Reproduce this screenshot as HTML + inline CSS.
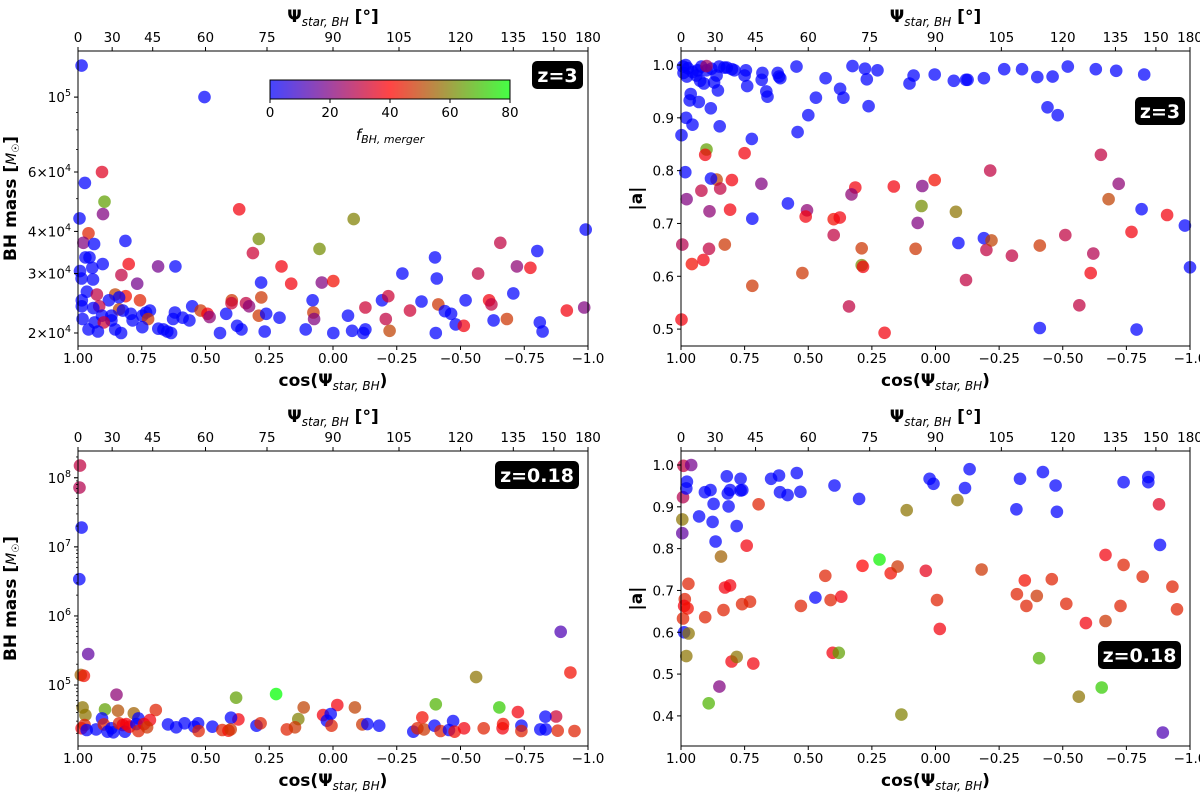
<!DOCTYPE html>
<html><head><meta charset="utf-8"><style>
html,body{margin:0;padding:0;background:#fff;width:1200px;height:798px;overflow:hidden}
svg{font-family:"DejaVu Sans","Liberation Sans",sans-serif}
</style></head><body>
<svg id="fig" width="1200" height="798" viewBox="0 0 1200 798" xmlns="http://www.w3.org/2000/svg">
<defs>
<linearGradient id="cmap" x1="0" x2="1" y1="0" y2="0">
<stop offset="0" stop-color="#4545ff"/><stop offset="0.5" stop-color="#ff4545"/><stop offset="1" stop-color="#45ff45"/>
</linearGradient>
</defs>
</svg>
<script>
// ---------- DATA ----------
// top-left: z=3 BH mass
const tlCos=[.986,.504,.906,.973,.896,.902,.994,.959,.368,-.081,.291,.053,-.991,.979,.814,.937,.971,.955,.903,.944,.992,.801,.83,.686,.618,.314,.202,.164,.044,-.001,.282,-.272,-.4,-.407,-.656,-.801,-.721,-.774,-.569,-.707,.941,.986,.965,.926,.854,.813,.768,.879,.757,.839,.985,.985,.917,.94,.839,.824,.793,.733,.718,.748,.725,.786,.869,.869,.906,.935,.899,.982,.959,.922,.854,.831,.748,.685,.665,.65,.635,.62,.627,.59,.563,.552,.519,.492,.484,.443,.419,.397,.398,.376,.359,.341,.329,.291,.262,.281,.268,.21,.107,.08,.077,.074,-.001,-.059,-.075,-.119,-.127,-.127,-.192,-.217,-.207,-.222,-.302,-.347,-.413,-.439,-.463,-.481,-.513,-.52,-.403,-.612,-.621,-.63,-.682,-.811,-.822,-.917,-.985];
const tlMass=[124000,100000,60000,55700,49000,45000,43700,39500,46500,43500,38000,35500,40500,37000,37500,36700,33500,33500,32000,31200,30500,32000,29700,31500,31500,34500,31500,28000,28200,28500,28200,30000,33500,29000,37000,35000,31500,31200,30000,26200,28800,29000,26500,26000,26000,25700,28000,25000,25000,25500,25000,24000,24000,23700,23500,23300,22800,23000,23300,22500,22000,21800,22500,21800,22500,21500,21500,22000,20500,20200,20500,20000,20800,20600,20500,20200,20000,23000,22000,22200,21800,24000,23300,22800,22300,20000,22800,25000,24500,21000,20500,24500,24000,22500,22800,25500,20200,22200,20500,25000,23000,22000,20000,22500,20300,20000,20500,23800,25000,25700,22000,20300,23300,24800,24300,23200,22800,21200,21000,25000,20000,25000,24300,21800,22000,21500,20200,23300,23800];
const tlF=[0,0,35,0,65,20,0,45,38,60,62,62,0,20,0,0,0,0,0,0,0,38,30,18,0,32,38,38,20,42,0,0,0,0,30,0,22,38,30,0,0,0,0,30,50,42,18,0,45,0,0,0,30,0,50,0,0,0,0,0,48,0,0,0,0,0,32,0,0,0,0,0,0,0,0,0,0,0,0,0,0,0,48,38,22,0,0,48,32,0,0,30,22,48,0,48,0,0,0,0,48,20,0,0,0,0,0,32,0,32,30,50,32,0,48,0,0,0,38,0,0,38,30,0,48,0,0,38,20];
// top-right: z=3 spin
const trCos=[.992,.982,.973,.99,.977,.955,.94,.925,.91,.935,.92,.9,.88,.86,.85,.83,.82,.8,.79,.745,.75,.74,.683,.68,.665,.66,.62,.615,.61,.87,.855,.962,.966,.93,.883,.98,.955,.848,.998,.722,.546,.5,.542,.432,.47,.375,.362,.326,.277,.27,.263,.228,.102,.086,.003,-.072,-.12,-.126,-.19,-.27,-.34,-.4,-.46,-.44,-.48,-.52,-.63,-.71,-.82,.983,.58,.72,-.09,-.19,-.41,-.81,-.79,-.98,-1.0,
.9,.9,.905,.75,.86,.882,.846,.8,.92,.684,.978,.888,.807,.89,.828,.995,.957,.912,.72,.523,.505,.51,.4,.376,.4,.315,.33,.34,.29,.29,.285,.2,.164,.078,.07,.052,.055,.003,-.08,-.12,-.215,-.2,-.22,-.3,-.41,-.51,-.565,-.61,-.62,-.65,-.68,-.72,-.77,-.91,.998];
const trSpin=[.997,1.0,.994,.985,.978,.987,.98,.97,.965,.99,.997,.99,.993,.98,.997,.995,.995,.992,.99,.99,.98,.96,.972,.985,.95,.94,.985,.978,.975,.967,.952,.945,.933,.93,.918,.9,.887,.884,.867,.86,.997,.905,.873,.975,.938,.955,.938,.998,.993,.973,.922,.99,.965,.98,.982,.97,.972,.972,.975,.992,.992,.977,.978,.92,.905,.997,.992,.989,.982,.797,.738,.709,.663,.672,.502,.727,.499,.696,.617,
.998,.84,.83,.833,.783,.785,.766,.782,.762,.775,.746,.723,.726,.652,.66,.66,.623,.631,.582,.606,.725,.713,.708,.711,.678,.768,.755,.543,.653,.621,.618,.493,.77,.652,.701,.771,.733,.782,.722,.593,.8,.65,.668,.639,.658,.678,.545,.606,.643,.83,.746,.775,.684,.716,.518];
const trF=[0,0,0,0,0,0,0,0,0,0,0,0,0,0,0,0,0,0,0,0,0,0,0,0,0,0,0,0,0,0,0,0,0,0,0,0,0,0,0,0,0,0,0,0,0,0,0,0,0,0,0,0,0,0,0,0,0,0,0,0,0,0,0,0,0,0,0,0,0,0,0,0,0,0,0,0,0,0,0,
25,65,38,38,50,0,30,38,30,20,20,22,38,30,48,28,42,38,48,48,22,38,42,38,30,38,22,30,48,62,38,38,38,48,20,20,62,42,58,30,30,30,50,30,48,30,30,38,28,30,50,22,38,38,38];
// bottom-left: z=0.18 BH mass
const blCos=[.992,.994,.986,.995,.96,.989,.977,-.893,-.931,-.561,.849,.38,.223,-.403,-.652,.982,.971,.894,.843,.781,.695,.115,-.017,-.086,-.725,-.875,.039,.009,.024,.136,.906,.763,.718,.371,.4,-.35,-.471,-.833,
.986,.974,.966,.929,.899,.884,.869,.861,.839,.824,.816,.81,.798,.771,.763,.741,.729,.647,.615,.582,.544,.529,.527,.473,.434,.41,.401,.3,.284,.181,.149,.006,-.115,-.135,-.181,-.315,-.331,-.357,-.398,-.422,-.455,-.477,-.514,-.591,-.665,-.667,-.739,-.739,-.813,-.834,-.881,-.947];
const blMass=[150000000,72000000,19000000,3400000,280000,140000,136000,590000,152000,130000,72400,65500,74000,52500,47400,47400,36700,44400,42500,38900,43500,47400,51300,47400,40600,35000,36700,38000,30400,32100,32900,32900,31100,31800,33700,34000,30000,34800,
23600,26400,22300,22800,26900,21100,23600,20700,27900,26400,21100,27200,24900,27200,21600,27200,24400,26900,24400,27900,24900,27900,21600,24900,22300,21800,22800,25800,27900,22800,24400,25800,26900,27200,25800,21100,23600,22800,25800,21600,22300,21100,23600,23600,23600,27200,25800,21600,22800,22800,21800,21600];
const blF=[30,28,0,0,15,55,42,12,42,58,22,65,80,68,72,58,58,65,52,55,45,50,38,50,38,32,38,0,0,60,0,0,38,38,0,42,0,0,
38,45,0,0,45,0,0,0,45,38,0,38,38,0,45,38,48,0,0,0,0,0,45,0,45,42,48,0,45,45,48,45,48,0,0,0,45,48,0,45,0,42,38,45,38,42,0,45,0,0,45,45];
// bottom-right: z=0.18 spin
const brCos=[.99,.96,.992,.995,.995,.977,.979,.988,.97,.979,.971,.985,.988,.974,.992,.929,.906,.884,.872,.876,.864,.905,.891,.843,.849,.833,.827,.807,.82,.816,.813,.807,.781,.766,.766,.759,.801,.781,.76,.729,.742,.716,.695,.646,.615,.611,.581,.545,.531,.529,.472,.433,.412,.404,.38,.37,.397,.3,.287,.22,.176,.149,.134,.113,.038,.023,.008,-.006,-.017,-.086,-.116,-.134,-.181,-.318,-.32,-.332,-.351,-.357,-.398,-.407,-.422,-.457,-.472,-.477,-.514,-.563,-.591,-.653,-.668,-.668,-.727,-.739,-.739,-.814,-.836,-.836,-.878,-.882,-.893,-.931,-.949];
const brSpin=[.998,1.0,.923,.87,.837,.96,.944,.6,.597,.543,.716,.679,.663,.657,.633,.877,.935,.94,.907,.864,.817,.636,.43,.781,.47,.653,.707,.712,.973,.932,.901,.94,.854,.967,.939,.94,.53,.541,.667,.673,.807,.525,.906,.967,.975,.935,.928,.981,.936,.663,.683,.735,.677,.551,.551,.685,.951,.919,.759,.774,.741,.757,.403,.892,.747,.967,.955,.677,.608,.916,.945,.99,.75,.894,.691,.967,.724,.663,.687,.538,.983,.727,.951,.888,.668,.446,.622,.468,.785,.627,.663,.761,.959,.733,.971,.959,.906,.809,.36,.709,.655];
const brF=[30,18,28,58,15,0,0,0,58,58,45,45,38,42,45,0,0,0,0,0,0,45,68,55,20,45,38,38,0,0,0,0,0,0,0,0,38,58,45,45,38,38,45,0,0,0,0,0,0,45,0,45,45,38,65,38,0,0,40,78,42,48,60,58,36,0,0,45,38,58,0,0,48,0,45,0,42,45,48,68,0,45,0,0,45,58,38,72,38,48,45,45,0,45,0,0,35,0,12,45,45];
// ticks
const xTicks=[1,0.75,0.5,0.25,0,-0.25,-0.5,-0.75,-1];
const xTickLabels=["1.00","0.75","0.50","0.25","0.00","\u22120.25","\u22120.50","\u22120.75","\u22121.0"];
const angTicks=[0,30,45,60,75,90,105,120,135,150,180];
const tlYTicks=[20000,30000,40000,60000,100000];
const tlYLabels=[["2","4"],["3","4"],["4","4"],["6","4"],[null,"5"]];
const blYTicks=[1e5,1e6,1e7,1e8];
const blYLabels=["5","6","7","8"];
const trYTicks=[0.5,0.6,0.7,0.8,0.9,1.0];
const brYTicks=[0.4,0.5,0.6,0.7,0.8,0.9,1.0];
const cbTicks=[0,20,40,60,80];

// ---------- DRAW ----------
const NS="http://www.w3.org/2000/svg";
const svg=document.getElementById('fig');
function mk(tag,attrs,parent,text){const e=document.createElementNS(NS,tag);for(const k in attrs)e.setAttribute(k,attrs[k]);if(text!==undefined)e.textContent=text;(parent||svg).appendChild(e);return e;}
function color(f){if(f===undefined||isNaN(f))f=45;let t=Math.max(0,Math.min(80,f))/80;let r,g,b;
 if(t<0.5){const u=t/0.5;r=255*u;g=0;b=255*(1-u);}else{const u=(t-0.5)/0.5;r=255*(1-u);g=255*u;b=0;}
 return `rgb(${Math.round(r)},${Math.round(g)},${Math.round(b)})`;}

function panel(opt){
 const g=mk('g',{});
 
 
 const {x0,x1,y0,y1}=opt;
 const sx=c=>x0+(1-c)/2*(x1-x0);
 const sy=opt.log?(v=>y1-(Math.log10(v)-Math.log10(opt.ymin))/(Math.log10(opt.ymax)-Math.log10(opt.ymin))*(y1-y0))
                 :(v=>y1-(v-opt.ymin)/(opt.ymax-opt.ymin)*(y1-y0));
 const pg=mk('g',{},g);
 
 
 for(let i=0;i<opt.xs.length;i++){
  const c=mk('circle',{cx:sx(opt.xs[i]).toFixed(1),cy:sy(opt.ys[i]).toFixed(1),r:6.3,fill:color(opt.fs[i]),'fill-opacity':0.72},pg);
  
  
 }
 const fr=mk('rect',{x:x0,y:y0,width:x1-x0,height:y1-y0,fill:'none',stroke:'#000','stroke-width':1},g);
 
 
 xTicks.forEach((t,i)=>{const x=sx(t);mk('line',{x1:x,x2:x,y1:y1,y2:y1+4,stroke:'#000'},g);
  const tx=mk('text',{x:x,y:y1+17,'font-size':13.5,'text-anchor':'middle'},g,xTickLabels[i]);
  
  });
 angTicks.forEach(a=>{const x=sx(Math.cos(a*Math.PI/180));mk('line',{x1:x,x2:x,y1:y0,y2:y0-4,stroke:'#000'},g);
  const tx=mk('text',{x:x,y:y0-9,'font-size':13.5,'text-anchor':'middle'},g,String(a));
  
  });
 if(opt.log){
  const lo=Math.floor(Math.log10(opt.ymin)),hi=Math.ceil(Math.log10(opt.ymax));
  for(let d=lo;d<=hi;d++)for(let m=1;m<10;m++){const v=m*Math.pow(10,d);if(v<opt.ymin||v>opt.ymax)continue;
   const y=sy(v);mk('line',{x1:x0,x2:x0-(m===1?4:2),y1:y,y2:y,stroke:'#000','stroke-width':0.8},g);}
  opt.yTicks.forEach((v,i)=>{const y=sy(v);mk('line',{x1:x0,x2:x0-4,y1:y,y2:y,stroke:'#000'},g);
   const lab=opt.yLabels[i];const t=mk('text',{x:x0-7,y:y+5,'font-size':13.5,'text-anchor':'end'},g);
   
   
   if(Array.isArray(lab)){
     if(lab[0]){mk('tspan',{},t,lab[0]+'\u00d710');}else{mk('tspan',{},t,'10');}
     mk('tspan',{dy:-6,'font-size':9.5},t,lab[1]);
   }else{mk('tspan',{},t,'10');mk('tspan',{dy:-6,'font-size':9.5},t,lab);}
  });
 }else{
  opt.yTicks.forEach(v=>{const y=sy(v);mk('line',{x1:x0,x2:x0-4,y1:y,y2:y,stroke:'#000'},g);
   const t=mk('text',{x:x0-7,y:y+5,'font-size':13.5,'text-anchor':'end'},g,v.toFixed(1));
   
   });
 }
 const cx=(x0+x1)/2;
 const xt=mk('text',{x:cx,y:y1+40,'font-size':17,'font-weight':'bold','text-anchor':'middle'},g);
 
 
 mk('tspan',{},xt,'cos(\u03a8');mk('tspan',{'font-size':12,'font-style':'italic','font-weight':'normal',dy:4},xt,'star, BH');mk('tspan',{dy:-4},xt,')');
 const tt=mk('text',{x:cx,y:y0-29,'font-size':17,'font-weight':'bold','text-anchor':'middle'},g);
 
 
 mk('tspan',{},tt,'\u03a8');mk('tspan',{'font-size':12,'font-style':'italic','font-weight':'normal',dy:4},tt,'star, BH');mk('tspan',{dy:-4},tt,' [\u00b0]');
 const cy=(y0+y1)/2;
 const yt=mk('text',{x:opt.ylx,y:cy,'font-size':17,'font-weight':'bold','text-anchor':'middle',transform:`rotate(-90 ${opt.ylx} ${cy})`},g);
 
 
 if(opt.log){mk('tspan',{},yt,'BH mass [');mk('tspan',{'font-style':'italic','font-weight':'normal','font-size':14},yt,'M');mk('tspan',{'font-size':10,'font-weight':'normal',dy:3},yt,'\u2609');mk('tspan',{dy:-3},yt,']');}
 else{yt.textContent='|a|';}
 const b=opt.badge;
 const br=mk('rect',{x:b.x,y:b.y,width:b.w,height:b.h,rx:5,fill:'#000'},g);
 
 
 const bt=mk('text',{x:b.x+b.w/2,y:b.y+b.h/2+7,'font-size':19,'font-weight':'bold',fill:'#fff','text-anchor':'middle'},g,b.text);
 
 
 return g;
}

panel({name:'panel-z3-mass',x0:78,x1:588,y0:51,y1:346,log:true,ymin:18300,ymax:137000,xs:tlCos,ys:tlMass,fs:tlF,yTicks:tlYTicks,yLabels:tlYLabels,ylx:16,badge:{x:532,y:61,w:51,h:28,text:'z=3'}});
panel({name:'panel-z3-spin',x0:681,x1:1190,y0:51,y1:346,log:false,ymin:0.468,ymax:1.0265,xs:trCos,ys:trSpin,fs:trF,yTicks:trYTicks,ylx:642,badge:{x:1135,y:97,w:50,h:28,text:'z=3'}});
panel({name:'panel-z018-mass',x0:78,x1:588,y0:451,y1:746,log:true,ymin:13100,ymax:244000000,xs:blCos,ys:blMass,fs:blF,yTicks:blYTicks,yLabels:blYLabels,ylx:16,badge:{x:495,y:461,w:84,h:28,text:'z=0.18'}});
panel({name:'panel-z018-spin',x0:681,x1:1190,y0:451,y1:746,log:false,ymin:0.328,ymax:1.0335,xs:brCos,ys:brSpin,fs:brF,yTicks:brYTicks,ylx:642,badge:{x:1098,y:641,w:83,h:28,text:'z=0.18'}});

const cb=mk('g',{});


const cbx0=270,cbx1=510;
mk('rect',{x:cbx0,y:80,width:cbx1-cbx0,height:19,fill:'url(#cmap)',stroke:'#000','stroke-width':1},cb);
cbTicks.forEach(t=>{const x=cbx0+t/80*(cbx1-cbx0);mk('line',{x1:x,x2:x,y1:99,y2:103,stroke:'#000'},cb);
 const tx=mk('text',{x:x,y:117,'font-size':13.5,'text-anchor':'middle'},cb,String(t));
 
 });
const cl=mk('text',{x:390,y:140,'font-size':15,'font-style':'italic','text-anchor':'middle'},cb);


mk('tspan',{},cl,'f');mk('tspan',{'font-size':11,dy:3},cl,'BH, merger');
</script>
</body></html>
